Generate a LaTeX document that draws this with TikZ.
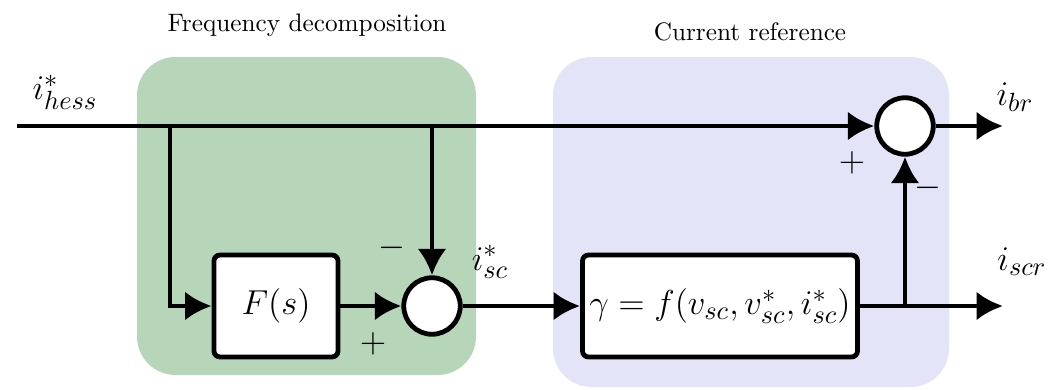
\documentclass[tikz,border=0pt]{standalone}
\usetikzlibrary{arrows.meta}
\definecolor{fdgreen}{RGB}{183,213,184}
\definecolor{crblue}{RGB}{227,228,248}
\begin{document}
\begin{tikzpicture}[x=0.416pt,y=-0.416pt,
  blk/.style={draw, line width=2pt, fill=white, rounded corners=2.5pt, minimum height=42.4pt, inner sep=0pt, font=\fontsize{15.2}{18}\selectfont},
  sumc/.style={circle, draw, line width=2pt, fill=white, minimum size=23.5pt, inner sep=0pt},
  sig/.style={line width=2pt},
  arr/.style={sig, -{Latex[length=11pt,width=12pt]}},
  lbl/.style={font=\fontsize{15}{18}\selectfont},
  sgn/.style={font=\fontsize{15}{18}\selectfont},
  ttl/.style={font=\fontsize{10.5}{12}\selectfont}]
\useasboundingbox (0,0) rectangle (1057,389);
\fill[fdgreen, rounded corners=16pt] (137,57) rectangle (476,375);
\fill[crblue, rounded corners=16pt] (553,57) rectangle (949,387);
\node[ttl] (t1) at (307,25) {Frequency decomposition};
\node[ttl] (t2) at (750,32) {Current reference};
\coordinate (in) at (17,126);
\coordinate (b1) at (170,126);
\coordinate (b2) at (432,126);
\node[blk, minimum width=51.6pt] (F) at (276,306) {$F(s)$};
\node[sumc] (s1) at (432,306) {};
\node[blk, minimum width=114.4pt] (G) at (720,306) {$\gamma = f(v_{sc}, v^*_{sc}, i^*_{sc})$};
\node[sumc] (s2) at (905,126) {};
\coordinate (b3) at (905,306);
\coordinate (o1) at (1003,126);
\coordinate (o2) at (1003,306);
\draw[arr] (in) -- (s2);
\draw[arr] (b1) |- (F);
\draw[arr] (b2) -- (s1);
\draw[arr] (F) -- (s1);
\draw[arr] (s1) -- (G);
\draw[sig] (G) -- (b3);
\draw[arr] (b3) -- (o2);
\draw[arr] (b3) -- (s2);
\draw[arr] (s2) -- (o1);
\node[lbl] (lh) at (65,92) {$i^*_{hess}$};
\node[lbl] (lbr) at (1015,97) {$i_{br}$};
\node[lbl] (lscr) at (1022,262) {$i_{scr}$};
\node[lbl] (lsc) at (490,262) {$i^*_{sc}$};
\node[sgn] (m1) at (392,248) {$-$};
\node[sgn] (p1) at (373,344) {$+$};
\node[sgn] (p2) at (852,163) {$+$};
\node[sgn] (m2) at (928,188) {$-$};
\end{tikzpicture}
\end{document}
